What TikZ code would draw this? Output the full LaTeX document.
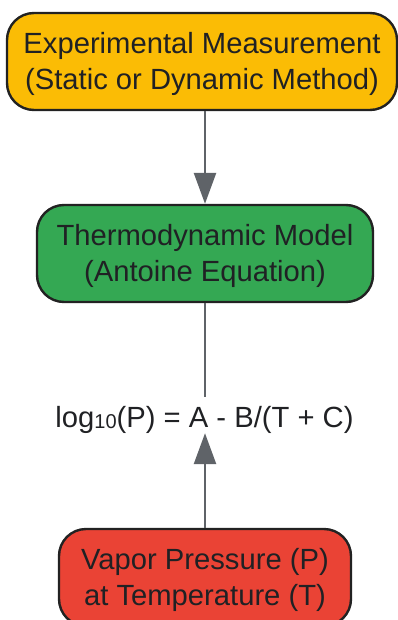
\documentclass[tikz,border=0pt]{standalone}
\usepackage{fontspec}
\setmainfont{Liberation Sans}
\usetikzlibrary{arrows.meta}
\definecolor{boxyellow}{HTML}{FBBC05}
\definecolor{boxgreen}{HTML}{34A853}
\definecolor{boxred}{HTML}{EA4335}
\definecolor{edgegray}{HTML}{5F6368}
\definecolor{txtdark}{HTML}{202124}
\definecolor{borderdark}{HTML}{222222}
\newcommand{\twolines}[2]{\begin{tabular}{@{}c@{}}\rule{0pt}{31.2pt}#1\\#2\end{tabular}}
\tikzset{
  procbox/.style={draw=borderdark, line width=2.4pt, rounded corners=27pt,
    minimum height=97pt, inner sep=0pt, align=center, text=txtdark,
    font=\fontsize{29.2}{36}\selectfont},
  conn/.style={draw=edgegray, line width=2.6pt},
  tip/.style={-{Triangle[length=31pt,width=22pt]}},
  eqlabel/.style={text=txtdark, font=\fontsize{29.2}{36}\selectfont,
    inner xsep=0pt, inner ysep=0pt, text height=30pt, text depth=6pt}
}
\begin{document}
\begin{tikzpicture}[x=1pt,y=-1pt]
\useasboundingbox (0,0) rectangle (398,620);
\clip (0,0) rectangle (398,620);
\node[procbox, fill=boxyellow, minimum width=390pt] (exp) at (202,61.5)
  {\twolines{Experimental Measurement}{(Static or Dynamic Method)}};
\node[procbox, fill=boxgreen, minimum width=336pt] (model) at (205,253.5)
  {\twolines{Thermodynamic Model}{(Antoine Equation)}};
\node[procbox, fill=boxred, minimum width=292pt] (vp) at (205,577.5)
  {\twolines{Vapor Pressure (P)}{at Temperature (T)}};
\node[eqlabel] (eq) at (204.5,415)
  {log{\fontsize{20}{20}\selectfont\raisebox{-1pt}{10}}(P) = A - B/(T + C)};
\draw[conn, tip] (exp.south -| 205,0) -- (model.north);
\draw[conn] (model.south) -- (eq.north -| model.south);
\draw[conn, tip] (vp.north) -- (eq.south -| vp.north);
\end{tikzpicture}
\end{document}
